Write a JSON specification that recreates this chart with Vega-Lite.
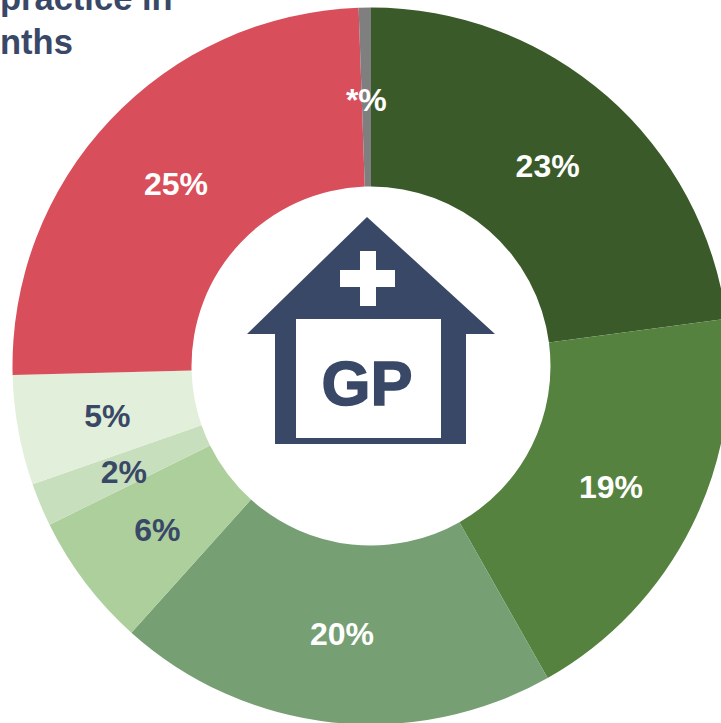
{
 "$schema":"https://vega.github.io/schema/vega-lite/v6.json",
 "width":742,"height":732,"padding":0,"autosize":{"type":"none"},"background":"white",
 "config":{"view":{"stroke":null}},
 "title":{"text":["practice in","nths"],"anchor":"start","frame":"group","offset":0,"dx":0,"dy":88,"baseline":"alphabetic","align":"left","font":"Liberation Sans","fontSize":34.5,"fontWeight":"bold","color":"#394867","lineHeight":44},
 "datasets":{"shares":[
  {"idx":1,"segment":"Segment 1","share":22.9,"label":"23%"},
  {"idx":2,"segment":"Segment 2","share":18.9,"label":"19%"},
  {"idx":3,"segment":"Segment 3","share":19.85,"label":"20%"},
  {"idx":4,"segment":"Segment 4","share":6.05,"label":"6%"},
  {"idx":5,"segment":"Segment 5","share":1.95,"label":"2%"},
  {"idx":6,"segment":"Segment 6","share":4.95,"label":"5%"},
  {"idx":7,"segment":"Segment 7","share":24.85,"label":"25%"},
  {"idx":8,"segment":"Segment 8","share":0.55,"label":"*%"}
 ]},
 "layer":[
  {"data":{"name":"shares"},
   "mark":{"type":"arc","radius":358.5,"radius2":179.5},
   "encoding":{
    "theta":{"field":"share","type":"quantitative","stack":true},
    "order":{"field":"idx","type":"quantitative"},
    "color":{"field":"segment","type":"nominal","legend":null,"scale":{"domain":["Segment 1","Segment 2","Segment 3","Segment 4","Segment 5","Segment 6","Segment 7","Segment 8"],"range":["#3A5A29","#56823F","#769F73","#ACCF9C","#C7DFBC","#E2EFDA","#D94E5B","#7F7F7F"]}}
   }},
  {"data":{"name":"shares"},
   "mark":{"type":"text","radius":268,"dy":3,"font":"Liberation Sans","fontSize":32,"fontWeight":"bold","align":"center","baseline":"middle"},
   "encoding":{
    "theta":{"field":"share","type":"quantitative","stack":true},
    "order":{"field":"idx","type":"quantitative"},
    "detail":{"field":"segment","type":"nominal"},
    "text":{"field":"label","type":"nominal"},
    "color":{"condition":{"test":"datum.idx>=4 && datum.idx<=6","value":"#394867"},"value":"#FFFFFF"}
   }},
  {"data":{"values":[{"icon":"GP practice"}]},
   "mark":{"type":"point","filled":true,"opacity":1,"size":4,"strokeWidth":0,"color":"#394867","x":{"expr":"width/2"},"y":{"expr":"height/2"},
    "shape":"M-4,-149L124,-32L95,-32L95,78L-96,78L-96,-32L-124,-32ZM-75,-47L-75,72L70,72L70,-47ZM-11,-115L-11,-96L-31,-96L-31,-79L-11,-79L-11,-60L5,-60L5,-79L24,-79L24,-96L5,-96L5,-115Z"},
   "encoding":{"detail":{"field":"icon","type":"nominal"}}},
  {"data":{"values":[{"word":"GP"}]},
   "mark":{"type":"text","font":"Liberation Sans","fontSize":63,"fontWeight":"bold","color":"#394867","stroke":"#394867","strokeWidth":1.5,"align":"center","baseline":"alphabetic","x":{"expr":"width/2"},"y":{"expr":"height/2"},"dx":-4,"dy":39},
   "encoding":{"text":{"field":"word","type":"nominal"}}}
 ]
}
